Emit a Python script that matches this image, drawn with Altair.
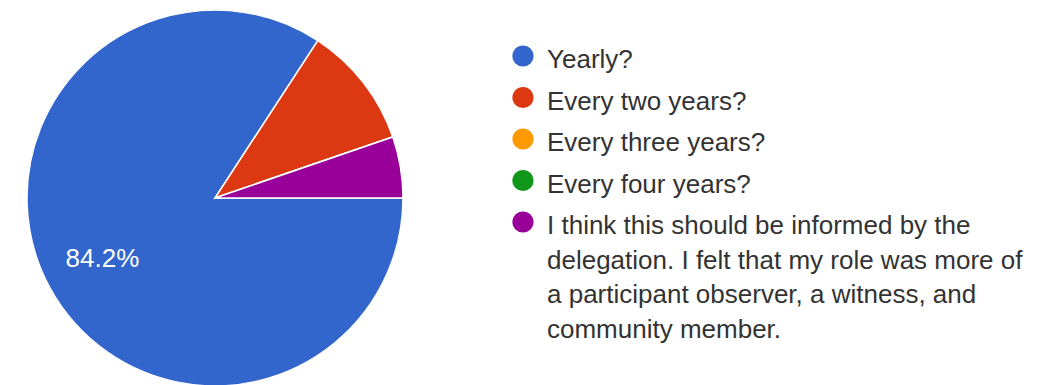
import math
import altair as alt
import pandas as pd

categories = [
    "Yearly?",
    "Every two years?",
    "Every three years?",
    "Every four years?",
    "I think this should be informed by the delegation. I felt that my role was more of a participant observer, a witness, and community member.",
]
counts = [16, 2, 0, 0, 1]
palette = ["#3366cc", "#dc3912", "#ff9900", "#109618", "#990099"]
legend_lines = [
    ["Yearly?"],
    ["Every two years?"],
    ["Every three years?"],
    ["Every four years?"],
    [
        "I think this should be informed by the",
        "delegation. I felt that my role was more of",
        "a participant observer, a witness, and",
        "community member.",
    ],
]

pie_df = pd.DataFrame({"item": categories, "count": counts, "idx": list(range(len(categories)))})
sym_df = pd.DataFrame({"item": categories, "idx": list(range(len(categories)))})
line_df = pd.DataFrame(
    [
        {"item": categories[i], "idx": i, "line": j, "text": t}
        for i, ls in enumerate(legend_lines)
        for j, t in enumerate(ls)
    ]
)

FONT = "Liberation Sans"
color = alt.Color("item:N", scale=alt.Scale(domain=categories, range=palette), legend=None)
theta = alt.Theta(
    "count:Q", stack=True, scale=alt.Scale(range=[math.pi / 2, math.pi / 2 + 2 * math.pi])
)
order = alt.Order("idx:Q")

pie = alt.Chart(pie_df).mark_arc(outerRadius=188, stroke="white", strokeWidth=1.5).encode(
    theta=theta, color=color, order=order, x=alt.value(215), y=alt.value(198)
)

label = (
    alt.Chart(pie_df)
    .transform_joinaggregate(total="sum(count)")
    .transform_calculate(
        pct="datum.count / datum.total",
        label="datum.pct > 0.2 ? format(datum.pct, '.1%') : ''",
    )
    .mark_text(radius=128, fontSize=26, font=FONT, color="white", align="center", baseline="middle")
    .encode(theta=theta, order=order, text="label:N", x=alt.value(215), y=alt.value(198))
)

symbols = (
    alt.Chart(sym_df)
    .transform_calculate(py="56 + datum.idx * 41.5")
    .mark_point(filled=True, shape="circle", size=450, opacity=1)
    .encode(x=alt.value(523), y=alt.Y("py:Q", scale=None, axis=None), color=color)
)

texts = (
    alt.Chart(line_df)
    .transform_calculate(py="68 + datum.idx * 41.5 + datum.line * 34.5")
    .mark_text(align="left", baseline="alphabetic", fontSize=26, font=FONT, color="#333333")
    .encode(x=alt.value(547), y=alt.Y("py:Q", scale=None, axis=None), text="text:N")
)

chart = (
    alt.layer(pie, label, symbols, texts)
    .properties(width=1055, height=385, autosize=alt.AutoSizeParams(type="none"), padding=0)
    .configure_view(stroke=None)
)

chart.save("out.html", embed_options={"renderer": "svg", "actions": False})
